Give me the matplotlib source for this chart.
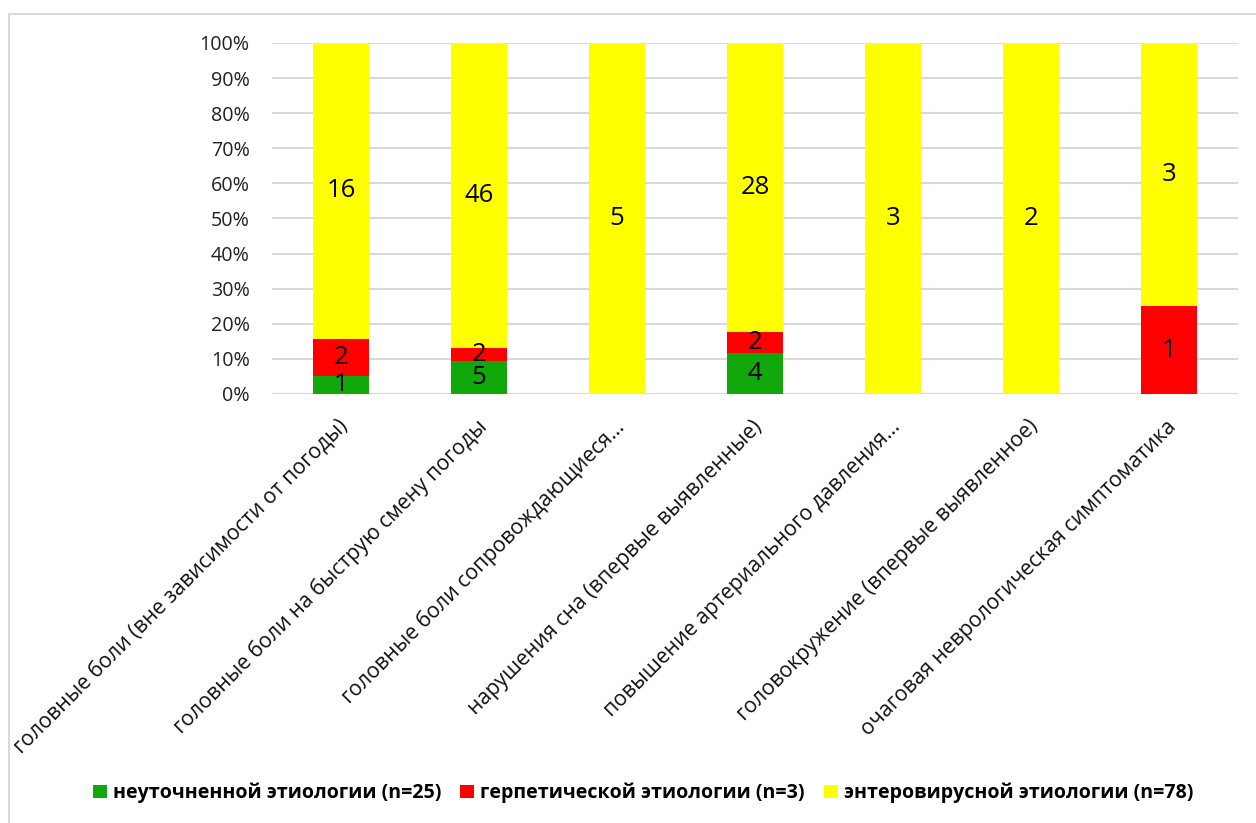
import numpy as np
import matplotlib
matplotlib.use("Agg")
import matplotlib.pyplot as plt
from matplotlib.patches import Rectangle
from matplotlib.transforms import ScaledTranslation

plt.rcParams['font.family'] = ['Open Sans', 'DejaVu Sans']

# Symptoms by etiology group (counts per category)
categories = [
    "головные боли (вне зависимости от погоды)",
    "головные боли на быструю смену погоды",
    "головные боли сопровождающиеся...",
    "нарушения сна (впервые выявленные)",
    "повышение артериального давления...",
    "головокружение (впервые выявленное)",
    "очаговая неврологическая симптоматика",
]
unspecified = [1, 5, 0, 4, 0, 0, 0]
herpetic = [2, 2, 0, 2, 0, 0, 1]
enteroviral = [16, 46, 5, 28, 3, 2, 3]

series_names = [
    "неуточненной этиологии (n=25)",
    "герпетической этиологии (n=3)",
    "энтеровирусной этиологии (n=78)",
]
colors = ["#12A80C", "#FF0000", "#FFFF00"]

counts = np.array([unspecified, herpetic, enteroviral], dtype=float)
totals = counts.sum(axis=0)
shares = counts / totals * 100

fig = plt.figure(figsize=(12.56, 8.23), dpi=100)
ax = fig.add_axes([272 / 1256, 1 - 394 / 823, (1238 - 272) / 1256, (394 - 43) / 823])

# chart frame
fig.patches.append(Rectangle((9 / 1256, -0.1), 1.2, 1.1 - 14 / 823, transform=fig.transFigure,
                             fill=False, edgecolor="#D9D9D9", linewidth=1.5, zorder=0))

x = np.arange(len(categories))
bottom = np.zeros(len(categories))
for i in range(3):
    ax.bar(x, shares[i], 0.41, bottom=bottom, color=colors[i], label=series_names[i], zorder=2)
    for j in range(len(categories)):
        if counts[i, j] > 0:
            ax.text(x[j], bottom[j] + shares[i, j] / 2, f"{int(counts[i, j])}",
                    ha="center", va="center", fontsize=18.5, color="black", zorder=3)
    bottom += shares[i]

ax.set_xlim(-0.5, len(categories) - 0.5)
ax.set_ylim(0, 100)
ax.set_yticks(np.arange(0, 101, 10))
ax.set_yticklabels([f"{v}%" for v in range(0, 101, 10)], fontsize=14.2, color="#222222")
ax.yaxis.grid(True, color="#D9D9D9", linewidth=1.5, zorder=0)
ax.set_axisbelow(True)
for s in ax.spines.values():
    s.set_visible(False)
ax.tick_params(axis="y", length=0, pad=16)
ax.tick_params(axis="x", length=0, pad=16)

ax.set_xticks(x)
ax.set_xticklabels(categories, rotation=45, ha="right", va="top",
                   rotation_mode="anchor", fontsize=15.3, color="#111111")
for lbl in ax.get_xticklabels():
    lbl.set_transform(lbl.get_transform() + ScaledTranslation(-3 / 100, 0, fig.dpi_scale_trans))

fig.legend(loc="center", bbox_to_anchor=(643 / 1256, 1 - 793 / 823), ncol=3, frameon=False,
           prop={"weight": "bold", "size": 14.1}, handlelength=0.7, handleheight=0.7,
           handletextpad=0.3, columnspacing=1.0)

fig.savefig("out.png", dpi=100, facecolor="white")
